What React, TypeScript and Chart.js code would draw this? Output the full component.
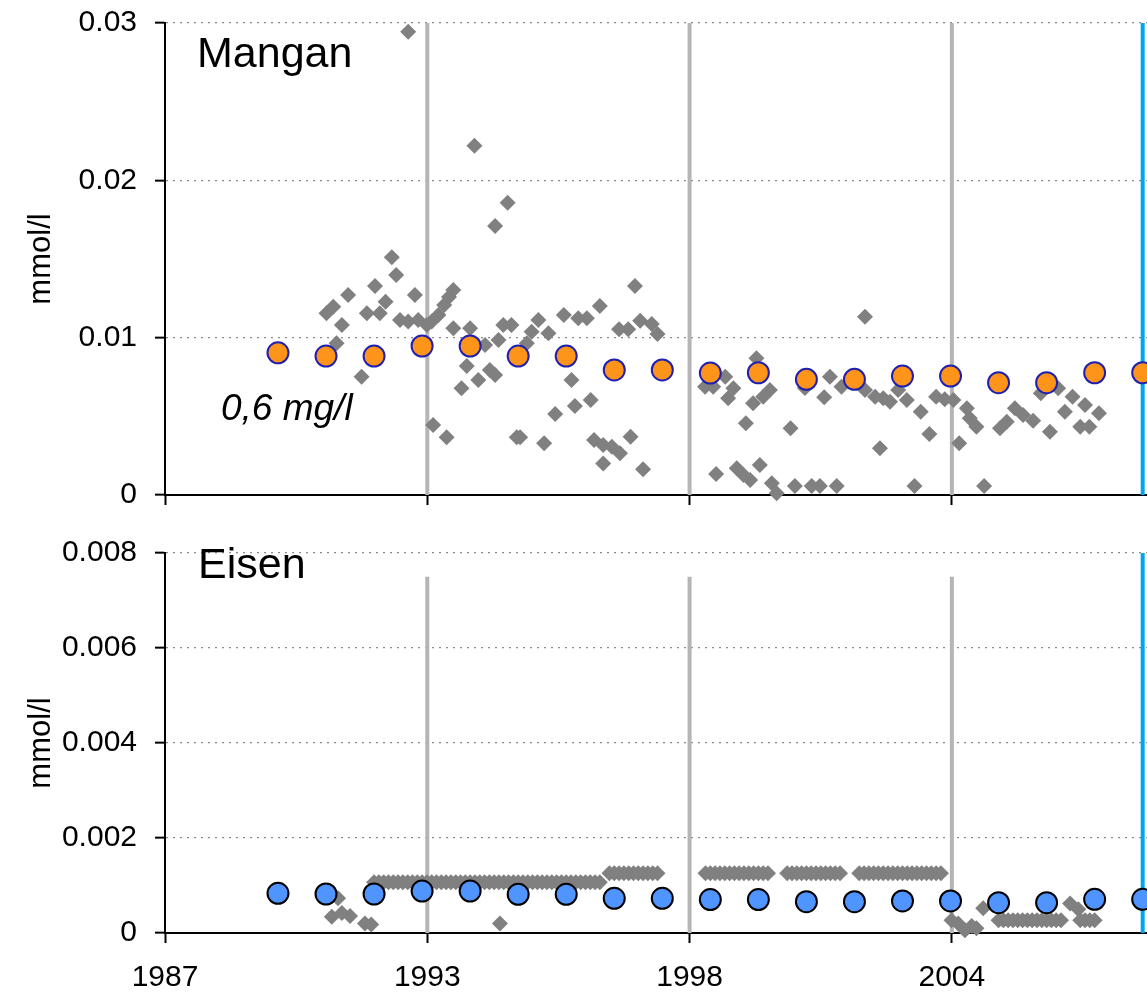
import React, { useEffect, useRef } from 'react';
import { Chart, registerables } from 'chart.js';

Chart.register(...registerables);

// ---------- axis data ----------
const X_MIN = 1987.648;
const X_MAX = 2008.09;
const X_TICK_VALUES = [1987.648, 1993.108, 1998.568, 2004.028];
const X_TICK_LABELS = ['1987', '1993', '1998', '2004'];
const MARKER_YEARS = [1993.108, 1998.568, 2004.028];
const CUTOFF_YEAR = 2008.0;

const MN_Y_TICKS = [0, 0.01, 0.02, 0.03];
const MN_Y_LABELS = ['0', '0.01', '0.02', '0.03'];
const FE_Y_TICKS = [0, 0.002, 0.004, 0.006, 0.008];
const FE_Y_LABELS = ['0', '0.002', '0.004', '0.006', '0.008'];
const FE_MARKER_TOP = 0.0075;

// ---------- annual means ----------
const MEAN_YEARS = [1990, 1991, 1992, 1993, 1994, 1995, 1996, 1997, 1998, 1999, 2000, 2001, 2002, 2003, 2004, 2005, 2006, 2007, 2008];
const MN_MEAN = [0.00904, 0.00883, 0.00883, 0.00947, 0.00947, 0.00883, 0.00883, 0.00795, 0.00795, 0.00775, 0.00777, 0.00735, 0.00735, 0.00756, 0.00756, 0.00714, 0.00714, 0.00777, 0.00777];
const FE_MEAN = [0.000836, 0.000821, 0.000821, 0.000884, 0.000884, 0.000815, 0.000815, 0.00073, 0.00073, 0.000705, 0.000705, 0.000659, 0.000659, 0.000674, 0.000674, 0.000638, 0.000638, 0.000709, 0.000709];

// ---------- Mangan single samples ----------
const MN_T = [
  1991.01, 1991.15, 1991.22, 1991.33, 1991.46, 1991.74, 1991.85, 1992.02, 1992.12, 1992.24,
  1992.37, 1992.46, 1992.54, 1992.71, 1992.71, 1992.85, 1992.92, 1993.10, 1993.20, 1993.23,
  1993.34, 1993.46, 1993.51, 1993.56, 1993.65, 1993.65, 1993.82, 1993.93, 1994.00, 1994.09,
  1994.17, 1994.31, 1994.41, 1994.52, 1994.52, 1994.59, 1994.69, 1994.78, 1994.86, 1994.97,
  1995.04, 1995.18, 1995.28, 1995.42, 1995.54, 1995.63, 1995.77, 1995.95, 1996.11, 1996.18,
  1996.25, 1996.43, 1996.51, 1996.58, 1996.70, 1996.77, 1996.77, 1996.95, 1997.10, 1997.12,
  1997.29, 1997.34, 1997.43, 1997.54, 1997.60, 1997.78, 1997.90, 1998.89, 1999.06, 1999.12,
  1999.31, 1999.37, 1999.48, 1999.55, 1999.69, 1999.74, 1999.83, 1999.89, 1999.96, 2000.03,
  2000.10, 2000.24, 2000.28, 2000.38, 2000.67, 2000.76, 2000.97, 2001.11, 2001.28, 2001.37,
  2001.49, 2001.63, 2001.73, 2002.22, 2002.22, 2002.43, 2002.53, 2002.60, 2002.74, 2002.91,
  2003.09, 2003.25, 2003.38, 2003.56, 2003.70, 2003.88, 2004.06, 2004.18, 2004.34, 2004.40,
  2004.54, 2004.70, 2005.03, 2005.17, 2005.34, 2005.51, 2005.72, 2005.88, 2006.07, 2006.24,
  2006.38, 2006.54, 2006.70, 2006.80, 2006.89, 2007.09,
];
const MN_V = [
  0.01155, 0.01197, 0.00964, 0.01081, 0.01271, 0.00752, 0.01155, 0.01328, 0.01155, 0.01229,
  0.01511, 0.01398, 0.01112, 0.02945, 0.01102, 0.01271, 0.01112, 0.01081, 0.01102, 0.00445,
  0.01144, 0.01208, 0.00367, 0.01258, 0.01303, 0.0106, 0.00678, 0.0082, 0.0106, 0.0222,
  0.00731, 0.00953, 0.00795, 0.0171, 0.00763, 0.00985, 0.01081, 0.01858, 0.01081, 0.00367,
  0.00367, 0.00964, 0.01038, 0.01112, 0.00329, 0.01028, 0.00515, 0.01144, 0.00731, 0.00566,
  0.01123, 0.01123, 0.00604, 0.0035, 0.01201, 0.00318, 0.00201, 0.00307, 0.01053, 0.00265,
  0.01053, 0.00371, 0.01328, 0.01108, 0.00163, 0.01087, 0.01023, 0.00688, 0.00688, 0.00133,
  0.00752, 0.00615, 0.00678, 0.0017, 0.00127, 0.00456, 0.00095, 0.00583, 0.00869, 0.00191,
  0.00625, 0.00667, 0.00074, 0.00011, 0.00424, 0.00057, 0.0068, 0.00057, 0.00057, 0.00621,
  0.00752, 0.00057, 0.00688, 0.01133, 0.00667, 0.00625, 0.00297, 0.00615, 0.00593, 0.00667,
  0.00604, 0.00057, 0.00529, 0.00388, 0.00625, 0.00608, 0.00604, 0.00329, 0.00551, 0.00488,
  0.00434, 0.00057, 0.00424, 0.00466, 0.00551, 0.00508, 0.00472, 0.00646, 0.00402, 0.00678,
  0.00529, 0.00625, 0.00434, 0.00572, 0.00434, 0.00519,
];

// ---------- Eisen single samples ----------
const FE_T = [
  1991.12, 1991.25, 1991.33, 1991.50, 1991.81, 1991.94, 1994.62,
  2004.02, 2004.16, 2004.30, 2004.44, 2004.54, 2004.68, 2006.49, 2006.66,
];
const FE_V = [
  0.00034, 0.00073, 0.00042, 0.00036, 0.0002, 0.00018, 0.0002,
  0.00027, 0.0002, 0.00006, 0.00015, 0.0001, 0.00052, 0.00062, 0.0005,
];
// samples at the reporting limit (constant reported value per period)
const FE_LIMIT_A_T = [
  1992.0, 1992.1, 1992.2, 1992.3, 1992.4, 1992.5, 1992.6, 1992.7, 1992.8, 1992.9,
  1993.0, 1993.1, 1993.2, 1993.3, 1993.4, 1993.5, 1993.6, 1993.7, 1993.8, 1993.9,
  1994.0, 1994.1, 1994.2, 1994.3, 1994.4, 1994.5, 1994.6, 1994.7, 1994.8, 1994.9,
  1995.0, 1995.1, 1995.2, 1995.3, 1995.4, 1995.5, 1995.6, 1995.7, 1995.8, 1995.9,
  1996.0, 1996.1, 1996.2, 1996.3, 1996.4, 1996.5, 1996.6, 1996.7,
];
const FE_LIMIT_A_V = 0.00107;
const FE_LIMIT_B_T = [
  1996.9, 1997.0, 1997.1, 1997.2, 1997.3, 1997.4, 1997.5, 1997.6, 1997.7, 1997.8, 1997.9,
  1998.9, 1999.0, 1999.1, 1999.2, 1999.3, 1999.4, 1999.5, 1999.6, 1999.7, 1999.8, 1999.9, 2000.0, 2000.1, 2000.2,
  2000.6, 2000.7, 2000.8, 2000.9, 2001.0, 2001.1, 2001.2, 2001.3, 2001.4, 2001.5, 2001.6, 2001.7,
  2002.1, 2002.2, 2002.3, 2002.4, 2002.5, 2002.6, 2002.7, 2002.8, 2002.9,
  2003.0, 2003.1, 2003.2, 2003.3, 2003.4, 2003.5, 2003.6, 2003.7, 2003.8,
];
const FE_LIMIT_B_V = 0.00126;
const FE_LIMIT_C_T = [
  2005.0, 2005.1, 2005.2, 2005.3, 2005.4, 2005.5, 2005.6, 2005.7, 2005.8, 2005.9,
  2006.0, 2006.1, 2006.2, 2006.3, 2006.7, 2006.8, 2006.9, 2007.0,
];
const FE_LIMIT_C_V = 0.00027;

// ---------- styling ----------
const FONT = '"Liberation Sans", Arial, sans-serif';
const GRAY_LINE = '#b5b5b5';
const BLUE_LINE = '#00a6ef';
const DIAMOND = '#808080';

type TextItem = { text: string; x: number; y: number; font: string };

function textPlugin(items: TextItem[]) {
  return {
    id: 'panelText',
    afterDraw(chart: any) {
      const ctx = chart.ctx;
      ctx.save();
      ctx.fillStyle = '#000';
      ctx.textBaseline = 'alphabetic';
      ctx.textAlign = 'left';
      items.forEach((it) => {
        ctx.font = it.font;
        ctx.fillText(it.text, it.x, it.y);
      });
      ctx.restore();
    },
  };
}

function vline(x: number, top: number, color: string, order: number) {
  return {
    type: 'line',
    data: [
      { x, y: 0 },
      { x, y: top },
    ],
    borderColor: color,
    borderWidth: 4,
    pointRadius: 0,
    showLine: true,
    fill: false,
    order,
    clip: false,
  };
}

function makeConfig(p: {
  yMax: number;
  yTicks: number[];
  yLabels: string[];
  markerTop: number;
  means: number[];
  meanFill: string;
  meanBorder: string;
  samples: { x: number; y: number }[];
  showXLabels: boolean;
  xHeight: number;
  padTop: number;
  texts: TextItem[];
}) {
  const datasets: any[] = [
    {
      type: 'scatter',
      data: MEAN_YEARS.map((x, i) => ({ x, y: p.means[i] })),
      pointStyle: 'circle',
      pointRadius: 10.5,
      backgroundColor: p.meanFill,
      borderColor: p.meanBorder,
      borderWidth: 2,
      order: 0,
      clip: false,
    },
    {
      type: 'scatter',
      data: p.samples,
      pointStyle: 'rectRot',
      pointRadius: 8,
      backgroundColor: DIAMOND,
      borderWidth: 0,
      order: 1,
      clip: false,
    },
    ...MARKER_YEARS.map((m) => vline(m, p.markerTop, GRAY_LINE, 3)),
    vline(CUTOFF_YEAR, p.yMax, BLUE_LINE, 2),
  ];
  return {
    type: 'scatter',
    data: { datasets },
    options: {
      animation: false,
      responsive: false,
      events: [],
      layout: { autoPadding: false, padding: { top: p.padTop, left: 0, right: 0, bottom: 0 } },
      plugins: { legend: { display: false }, tooltip: { enabled: false } },
      scales: {
        x: {
          type: 'linear',
          min: X_MIN,
          max: X_MAX,
          afterBuildTicks: (s: any) => {
            s.ticks = X_TICK_VALUES.map((v) => ({ value: v }));
          },
          ticks: {
            display: p.showXLabels,
            autoSkip: false,
            maxRotation: 0,
            color: '#000',
            padding: 17,
            font: { family: FONT, size: 30 },
            callback: (_v: any, i: number) => X_TICK_LABELS[i],
          },
          grid: {
            drawOnChartArea: false,
            drawTicks: true,
            tickLength: 10,
            tickColor: '#000',
            tickWidth: 2,
          },
          border: { display: true, color: '#000', width: 2 },
          afterFit: (s: any) => {
            s.height = p.xHeight;
            s.paddingLeft = 0;
            s.paddingRight = 0;
          },
        },
        y: {
          type: 'linear',
          min: 0,
          max: p.yMax,
          afterBuildTicks: (s: any) => {
            s.ticks = p.yTicks.map((v) => ({ value: v }));
          },
          ticks: {
            color: '#000',
            padding: 18,
            font: { family: FONT, size: 30 },
            callback: (_v: any, i: number) => p.yLabels[i],
          },
          grid: {
            color: '#8a8a8a',
            lineWidth: 1.3,
            drawTicks: true,
            tickLength: 10,
            tickColor: '#000',
            tickWidth: 2,
            tickBorderDash: [],
          },
          border: { display: true, color: '#000', width: 2, dash: [2, 5] },
          title: {
            display: true,
            text: 'mmol/l',
            color: '#000',
            font: { family: FONT, size: 31 },
            padding: { top: 23, bottom: 0 },
          },
          afterFit: (s: any) => {
            s.width = 165;
            s.paddingTop = 0;
            s.paddingBottom = 0;
          },
        },
      },
    },
    plugins: [textPlugin(p.texts)],
  };
}

export default function App() {
  const topRef = useRef<HTMLCanvasElement | null>(null);
  const botRef = useRef<HTMLCanvasElement | null>(null);

  useEffect(() => {
    const mnSamples = MN_T.map((x, i) => ({ x, y: MN_V[i] }));
    const feSamples = [
      ...FE_T.map((x, i) => ({ x, y: FE_V[i] })),
      ...FE_LIMIT_A_T.map((x) => ({ x, y: FE_LIMIT_A_V })),
      ...FE_LIMIT_B_T.map((x) => ({ x, y: FE_LIMIT_B_V })),
      ...FE_LIMIT_C_T.map((x) => ({ x, y: FE_LIMIT_C_V })),
    ];
    const top = new Chart(
      topRef.current as HTMLCanvasElement,
      makeConfig({
        yMax: 0.03,
        yTicks: MN_Y_TICKS,
        yLabels: MN_Y_LABELS,
        markerTop: 0.03,
        means: MN_MEAN,
        meanFill: '#ff941a',
        meanBorder: '#2020b0',
        samples: mnSamples,
        showXLabels: false,
        xHeight: 17,
        padTop: 23,
        texts: [
          { text: 'Mangan', x: 197, y: 66.5, font: `43px ${FONT}` },
          { text: '0,6 mg/l', x: 221, y: 420, font: `italic 37px ${FONT}` },
        ],
      }) as any
    );
    const bot = new Chart(
      botRef.current as HTMLCanvasElement,
      makeConfig({
        yMax: 0.008,
        yTicks: FE_Y_TICKS,
        yLabels: FE_Y_LABELS,
        markerTop: FE_MARKER_TOP,
        means: FE_MEAN,
        meanFill: '#4f94ff',
        meanBorder: '#000000',
        samples: feSamples,
        showXLabels: true,
        xHeight: 61,
        padTop: 41,
        texts: [{ text: 'Eisen', x: 198, y: 66, font: `43px ${FONT}` }],
      }) as any
    );
    return () => {
      top.destroy();
      bot.destroy();
    };
  }, []);

  return (
    <div style={{ position: 'absolute', left: 0, top: 0, width: 1147, height: 994, background: '#fff' }}>
      <canvas ref={topRef} width={1147} height={512} style={{ position: 'absolute', left: 0, top: 0 }} />
      <canvas ref={botRef} width={1147} height={482} style={{ position: 'absolute', left: 0, top: 512 }} />
    </div>
  );
}
